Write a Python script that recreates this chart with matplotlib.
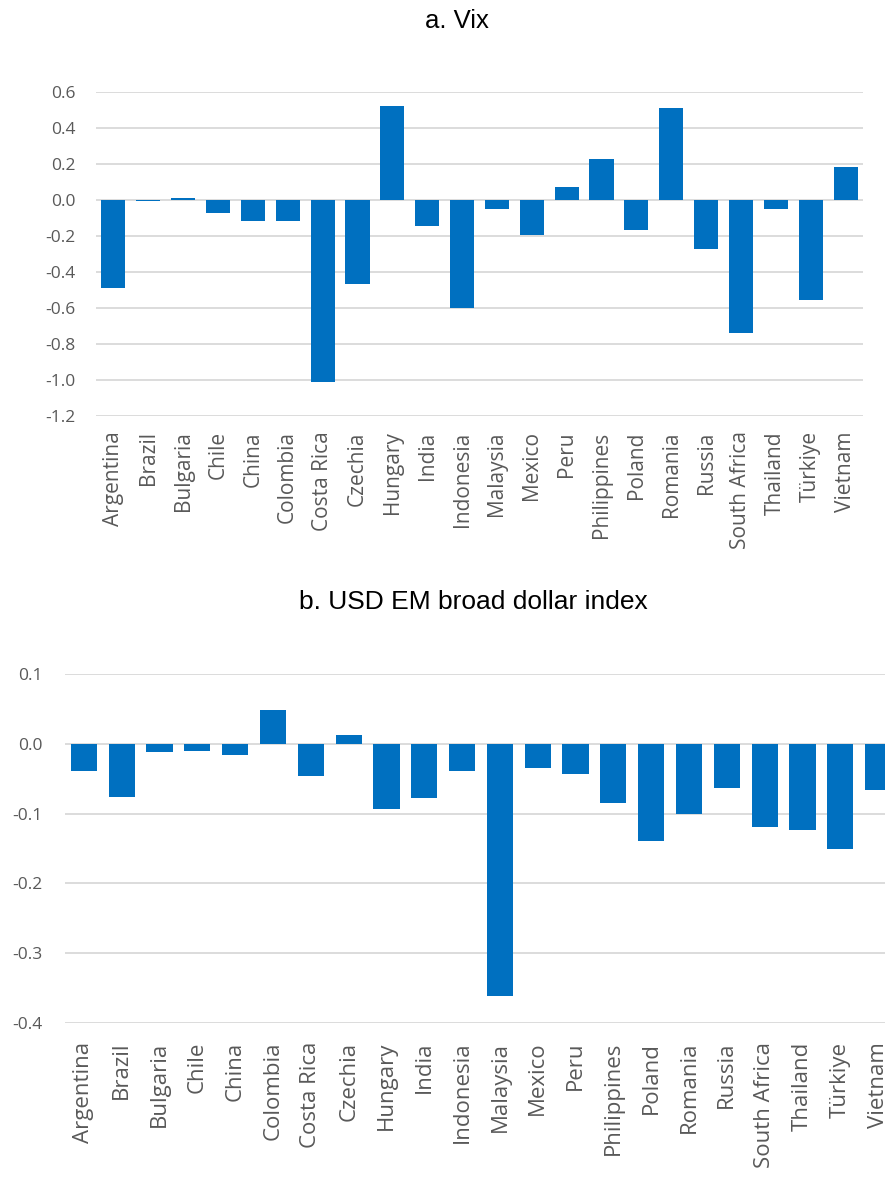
"""Bar panels: sensitivity of EM currencies to Vix and the USD EM broad dollar index."""

import matplotlib

matplotlib.use("Agg")
import matplotlib.pyplot as plt
import numpy as np
from matplotlib.ticker import FormatStrFormatter

countries = [
    "Argentina", "Brazil", "Bulgaria", "Chile", "China", "Colombia", "Costa Rica",
    "Czechia", "Hungary", "India", "Indonesia", "Malaysia", "Mexico", "Peru",
    "Philippines", "Poland", "Romania", "Russia", "South Africa", "Thailand",
    "Türkiye", "Vietnam",
]

vix = [
    -0.49, -0.005, 0.012, -0.07, -0.117, -0.117, -1.013, -0.469, 0.523, -0.145,
    -0.601, -0.05, -0.197, 0.072, 0.226, -0.169, 0.512, -0.273, -0.738, -0.05,
    -0.558, 0.182,
]

usd_em = [
    -0.039, -0.076, -0.012, -0.0096, -0.016, 0.048, -0.046, 0.012, -0.093, -0.078,
    -0.039, -0.362, -0.035, -0.0435, -0.085, -0.139, -0.100, -0.063, -0.119, -0.124,
    -0.150, -0.066,
]

vix_ticks = [-1.2, -1.0, -0.8, -0.6, -0.4, -0.2, 0.0, 0.2, 0.4, 0.6]
usd_ticks = [-0.4, -0.3, -0.2, -0.1, 0.0, 0.1]

BAR = "#0070c0"
GRID = "#d9d9d9"
LABEL = "#595959"

W, H = 885, 1177
fig = plt.figure(figsize=(W / 100, H / 100), dpi=100)


def px_axes(left, right, top, bottom):
    return fig.add_axes([left / W, 1 - bottom / H, (right - left) / W, (bottom - top) / H])


def draw_panel(ax, values, ticks, ypad, xpad, xsize):
    x = np.arange(len(countries))
    ax.bar(x, values, width=0.69, color=BAR, zorder=3)
    ax.set_xlim(-0.5, len(countries) - 0.5)
    ax.set_ylim(ticks[0], ticks[-1])
    ax.set_yticks(ticks)
    ax.yaxis.set_major_formatter(FormatStrFormatter("%.1f"))
    ax.set_xticks(x)
    ax.set_xticklabels(countries, rotation=90, fontfamily="Open Sans",
                       fontsize=xsize, color=LABEL)
    for lab in ax.get_yticklabels():
        lab.set_fontfamily("Open Sans")
        lab.set_fontsize(12.5)
        lab.set_color(LABEL)
    ax.tick_params(axis="both", length=0)
    ax.tick_params(axis="y", pad=ypad)
    ax.tick_params(axis="x", pad=xpad)
    ax.grid(True, axis="y", color=GRID, linewidth=1.3, zorder=0)
    ax.set_axisbelow(True)
    for s in ax.spines.values():
        s.set_visible(False)


ax_a = px_axes(96, 863, 92, 416)
draw_panel(ax_a, vix, vix_ticks, ypad=15, xpad=11, xsize=15)

ax_b = px_axes(65, 897, 674, 1023)
draw_panel(ax_b, usd_em, usd_ticks, ypad=16, xpad=13.5, xsize=16)

fig.text(457 / W, 1 - 21 / H, "a. Vix", ha="center", va="center",
         fontfamily="Liberation Sans", fontsize=18.5, color="black")
fig.text(473 / W, 1 - 602 / H, "b. USD EM broad dollar index", ha="center", va="center",
         fontfamily="Liberation Sans", fontsize=19, color="black")

fig.savefig("out.png", dpi=100)
plt.close(fig)
